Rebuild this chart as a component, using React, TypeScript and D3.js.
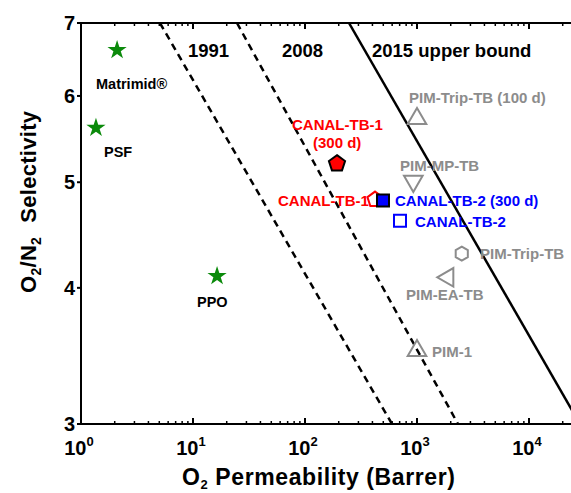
import React from 'react';
import * as d3 from 'd3';

const W = 571;
const H = 493;
const m = { left: 81, top: 23, bottom: 424 };

// reference materials (green stars)
const refNames = ['Matrimid®', 'PSF', 'PPO'];
const refP = [2.1, 1.36, 16.4];
const refSel = [6.61, 5.61, 4.1];

// CANAL polymers
const canalNames = ['CANAL-TB-1 (300 d)', 'CANAL-TB-1', 'CANAL-TB-2 (300 d)', 'CANAL-TB-2'];
const canalP = [193, 422, 497, 705];
const canalSel = [5.2, 4.82, 4.81, 4.61];

// PIMs (grey open symbols)
const pimNames = ['PIM-Trip-TB (100 d)', 'PIM-MP-TB', 'PIM-Trip-TB', 'PIM-EA-TB', 'PIM-1'];
const pimP = [1000, 927, 2510, 1890, 1000];
const pimSel = [5.73, 5.0, 4.3, 4.09, 3.51];

// upper bounds: [P at sel=7, P at sel=3]
const boundNames = ['1991', '2008', '2015 upper bound'];
const boundP = [[5.07, 598], [24.7, 2323], [247, 28500]];
const boundSel = [7, 3];

const xTicks = [1, 10, 100, 1000, 10000];
const yTicks = [3, 4, 5, 6, 7];

const x = d3.scaleLog().domain([1, 10 ** 4.45]).range([m.left, m.left + 112 * 4.45]);
const y = d3.scaleLog().domain([3, 7]).range([m.bottom, m.top]);

const green = '#0b8a0b';
const grey = '#8c8c8c';

const poly = (n: number, r: number, rot = 0) =>
  d3.range(n).map((i) => {
    const a = rot + (i * 2 * Math.PI) / n;
    return [r * Math.sin(a), -r * Math.cos(a)];
  }).map((p, i) => (i ? 'L' : 'M') + p[0].toFixed(2) + ',' + p[1].toFixed(2)).join('') + 'Z';

const star = d3.symbol(d3.symbolStar, 115)()!;
const tri = d3.symbol(d3.symbolTriangle, 150)()!;
const sq = d3.symbol(d3.symbolSquare, 144)()!;

const f = 'Liberation Sans, Arial, sans-serif';

export default function App() {
  const minor: number[] = [];
  for (let d = 1; d <= 10000; d *= 10) for (let k = 2; k <= 9; k++) if (d * k < 10 ** 4.45) minor.push(d * k);

  const lbl = (t: string, lx: number, ly: number, color: string, size = 15) => (
    <text x={lx} y={ly} fill={color} fontSize={size} fontWeight="bold" fontFamily={f}>{t}</text>
  );

  return (
    <svg width={W} height={H} style={{ position: 'absolute', left: 0, top: 0 }} fontFamily={f}>
      <defs>
        <clipPath id="pl"><rect x={m.left} y={m.top} width={W - m.left} height={m.bottom - m.top} /></clipPath>
      </defs>
      <rect width={W} height={H} fill="#fff" />
      <g clipPath="url(#pl)">
        {boundP.map((p, i) => (
          <line key={i} x1={x(p[0])} y1={y(boundSel[0])} x2={x(p[1])} y2={y(boundSel[1])}
            stroke="#000" strokeWidth={2.5} strokeDasharray={i < 2 ? '7,5' : undefined} />
        ))}
      </g>
      {/* axes */}
      <line x1={m.left} y1={m.top} x2={W} y2={m.top} stroke="#000" strokeWidth={2} />
      <line x1={m.left} y1={m.bottom} x2={W} y2={m.bottom} stroke="#000" strokeWidth={2} />
      <line x1={m.left} y1={m.top - 1} x2={m.left} y2={m.bottom + 1} stroke="#000" strokeWidth={2} />
      {minor.map((t) => (
        <g key={t}>
          <line x1={x(t)} x2={x(t)} y1={m.bottom} y2={m.bottom - 3} stroke="#000" strokeWidth={1.5} />
          <line x1={x(t)} x2={x(t)} y1={m.top} y2={m.top + 3} stroke="#000" strokeWidth={1.5} />
        </g>
      ))}
      {xTicks.map((t, i) => (
        <g key={t}>
          <line x1={x(t)} x2={x(t)} y1={m.bottom} y2={m.bottom - 6} stroke="#000" strokeWidth={2} />
          <line x1={x(t)} x2={x(t)} y1={m.top} y2={m.top + 6} stroke="#000" strokeWidth={2} />
          <text x={x(t) - 2} y={455} textAnchor="middle" fontSize={20} fontWeight="bold">
            10<tspan dy={-9} fontSize={13}>{i}</tspan>
          </text>
        </g>
      ))}
      {yTicks.map((t) => (
        <g key={t}>
          <line x1={m.left} x2={m.left - 4} y1={y(t)} y2={y(t)} stroke="#000" strokeWidth={2} />
          <text x={75} y={y(t) + 7} textAnchor="end" fontSize={20} fontWeight="bold">{t}</text>
        </g>
      ))}
      <text x={182} y={485} fontSize={23} letterSpacing={0.6} fontWeight="bold">
        O<tspan dy={4} fontSize={13}>2</tspan><tspan dy={-4}> Permeability (Barrer)</tspan>
      </text>
      <text transform="rotate(-90)" x={-293} y={36} fontSize={22} letterSpacing={0.3} fontWeight="bold">
        O<tspan dy={5} fontSize={14}>2</tspan><tspan dy={-5}>/N</tspan><tspan dy={5} fontSize={14}>2</tspan>
        <tspan dy={-5} dx={14}>Selectivity</tspan>
      </text>

      {/* bound labels */}
      {lbl(boundNames[0], 188, 57, '#000', 18.5)}
      {lbl(boundNames[1], 282, 57, '#000', 18.5)}
      {lbl(boundNames[2], 372, 57, '#000', 18.5)}

      {/* reference stars */}
      {refP.map((p, i) => (
        <path key={i} d={star} transform={`translate(${x(p)},${y(refSel[i])})`} fill={green} />
      ))}
      {lbl(refNames[0], 96, 89, '#000', 14.5)}
      {lbl(refNames[1], 104, 157, '#000', 14.5)}
      {lbl(refNames[2], 197, 307, '#000', 14.5)}

      {/* PIMs */}
      <path d={tri} transform={`translate(${x(pimP[0])},${y(pimSel[0]) + 1})`} fill="none" stroke={grey} strokeWidth={2} />
      <path d={tri} transform={`translate(${x(pimP[1])},${y(pimSel[1]) - 1}) rotate(180)`} fill="none" stroke={grey} strokeWidth={2} />
      <path d={poly(6, 7)} transform={`translate(${x(pimP[2])},${y(pimSel[2])})`} fill="none" stroke={grey} strokeWidth={2} />
      <path d={tri} transform={`translate(${x(pimP[3])},${y(pimSel[3])}) rotate(-90)`} fill="none" stroke={grey} strokeWidth={2} />
      <path d={tri} transform={`translate(${x(pimP[4])},${y(pimSel[4]) + 1})`} fill="none" stroke={grey} strokeWidth={2} />
      {lbl(pimNames[0], 409, 103, grey)}
      {lbl(pimNames[1], 400, 171, grey)}
      {lbl(pimNames[2], 480, 259, grey)}
      {lbl(pimNames[3], 406, 300, grey)}
      {lbl(pimNames[4], 432, 357, grey)}

      {/* CANAL */}
      <path d={poly(5, 8.5)} transform={`translate(${x(canalP[0])},${y(canalSel[0])})`} fill="#ff0000" stroke="#000" strokeWidth={2} />
      <path d={poly(5, 8)} transform={`translate(${x(canalP[1])},${y(canalSel[1])})`} fill="none" stroke="#ff0000" strokeWidth={2} />
      <path d={sq} transform={`translate(${x(canalP[2])},${y(canalSel[2])})`} fill="#0000ff" stroke="#000" strokeWidth={2} />
      <path d={sq} transform={`translate(${x(canalP[3])},${y(canalSel[3])})`} fill="none" stroke="#0000ff" strokeWidth={2} />
      {lbl('CANAL-TB-1', 292, 130, '#ff0000')}
      {lbl('(300 d)', 313, 148, '#ff0000')}
      {lbl(canalNames[1], 278, 206, '#ff0000')}
      {lbl(canalNames[2], 395, 206, '#0000ff')}
      {lbl(canalNames[3], 415, 227, '#0000ff')}
    </svg>
  );
}
